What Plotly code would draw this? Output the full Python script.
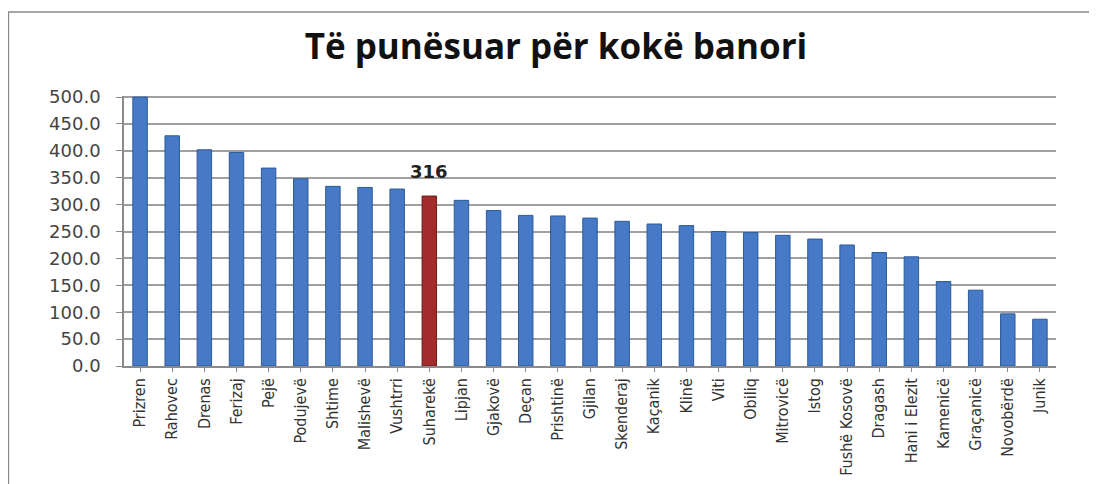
import plotly.graph_objects as go

categories = ["Prizren", "Rahovec", "Drenas", "Ferizaj", "Pejë", "Podujevë", "Shtime",
              "Malishevë", "Vushtrri", "Suharekë", "Lipjan", "Gjakovë", "Deçan",
              "Prishtinë", "Gjilan", "Skenderaj", "Kaçanik", "Klinë", "Viti", "Obiliq",
              "Mitrovicë", "Istog", "Fushë Kosovë", "Dragash", "Hani i Elezit",
              "Kamenicë", "Graçanicë", "Novobërdë", "Junik"]
values = [500, 428, 402, 397, 368, 348, 334, 332, 329, 316, 308, 289, 280,
          279, 275, 269, 264, 261, 250, 248, 243, 236, 225, 211, 203,
          157, 141, 97, 87]
highlight = "Suharekë"
title_text = "Të punësuar për kokë banori"
ytick_vals = [0, 50, 100, 150, 200, 250, 300, 350, 400, 450, 500]

colors = ["#a32b2b" if c == highlight else "#4679c6" for c in categories]
line_colors = ["#6e1c1c" if c == highlight else "#2e5a98" for c in categories]

fig = go.Figure(go.Bar(
    x=categories, y=values,
    marker=dict(color=colors, line=dict(color=line_colors, width=1)),
    hoverinfo="x+y",
))

hi_val = values[categories.index(highlight)]
fig.add_annotation(x=highlight, y=hi_val, text="<b>%d</b>" % round(hi_val),
                   showarrow=False, yanchor="bottom", yshift=12,
                   font=dict(family="DejaVu Sans", size=18, color="#222"))

fig.add_shape(type="rect", xref="paper", yref="paper",
              x0=-0.124, x1=1.08, y0=-0.6, y1=1.311,
              line=dict(color="#8a8a8a", width=1.5), fillcolor="rgba(0,0,0,0)",
              layer="below")

fig.update_layout(
    width=1097, height=484,
    margin=dict(l=116, r=49, t=88, b=126, autoexpand=False),
    paper_bgcolor="white", plot_bgcolor="white",
    title=dict(text="<b>" + title_text + "</b>", x=0.4995, xanchor="center",
               y=1 - 39 / 484, yanchor="middle", yref="container",
               font=dict(family="Open Sans", size=35, color="#111")),
    bargap=0.55,
    showlegend=False,
)
fig.update_xaxes(
    tickangle=-90,
    tickfont=dict(family="Liberation Sans Narrow, DejaVu Sans Condensed, sans-serif",
                  size=16, color="#333"),
    showline=True, linecolor="#8a8a8a", linewidth=1.5,
    ticks="outside", ticklen=4, tickcolor="#8a8a8a",
    automargin=False,
)
fig.update_yaxes(
    range=[0, 502], tickvals=ytick_vals, tickformat=".1f",
    tickfont=dict(family="DejaVu Sans", size=18, color="#444"),
    showgrid=True, gridcolor="#a0a0a0", gridwidth=1.5,
    showline=True, linecolor="#8a8a8a", linewidth=1.5,
    ticks="outside", ticklen=6, tickcolor="#8a8a8a",
    ticklabelstandoff=12,
    zeroline=False, automargin=False,
)

fig.write_html("out.html")
